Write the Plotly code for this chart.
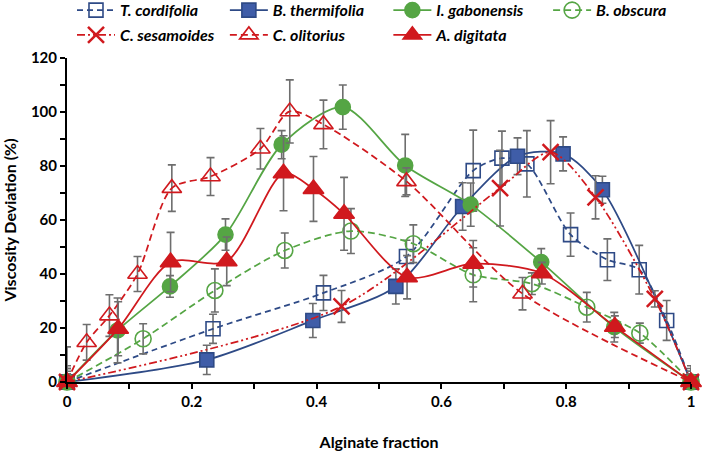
import plotly.graph_objects as go

# ---- data ----
tc_x = [0, 0.234, 0.411, 0.544, 0.651, 0.697, 0.737, 0.807, 0.866, 0.917, 0.961, 1]
tc_y = [0, 19.7, 33, 46.5, 78.3, 82.9, 80.8, 54.6, 45.3, 41.6, 22.8, 0]
tc_e = [5, 5.4, 6.5, 6, 15, 10, 12.3, 8, 7.7, 9, 7.4, 3]

bt_x = [0, 0.224, 0.394, 0.527, 0.634, 0.722, 0.795, 0.858, 1]
bt_y = [0, 8.2, 22.8, 35.4, 65, 83.6, 84.5, 71.2, 0]
bt_e = [3, 5.4, 6.3, 6.5, 8.8, 6.8, 6.3, 5, 3]

ig_x = [0, 0.081, 0.165, 0.254, 0.344, 0.442, 0.542, 0.647, 0.760, 0.877, 1]
ig_y = [0, 19.1, 35.4, 54.6, 87.9, 101.8, 80.2, 65.7, 44.4, 20.3, 0]
ig_e = [13, 12, 4, 5.8, 5.2, 8.2, 11.5, 8, 5, 5.5, 4]

bo_x = [0, 0.122, 0.237, 0.349, 0.455, 0.555, 0.651, 0.745, 0.833, 0.918, 1]
bo_y = [0, 16, 33.9, 48.7, 55.9, 51.2, 39.7, 36.4, 27.7, 18.1, 0]
bo_e = [6, 5.6, 8, 6.5, 8.3, 7, 10, 4, 5.5, 3.7, 6]

cs_x = [0, 0.440, 0.694, 0.775, 0.847, 0.942, 1]
cs_y = [0, 28, 71.8, 85.1, 68.4, 30.8, 0]
cs_e = [4, 5.9, 14, 11.7, 8, 3, 5]

co_x = [0, 0.0315, 0.068, 0.113, 0.168, 0.230, 0.310, 0.357, 0.411, 0.544, 0.730, 1]
co_y = [0, 14.7, 24.6, 40, 71.8, 76.1, 86.4, 100.2, 95.4, 74.3, 32.7, 0]
co_e = [5, 6.6, 7.7, 6.5, 8.6, 7, 7.5, 11.7, 9, 5, 6, 4]

ad_x = [0, 0.082, 0.166, 0.256, 0.347, 0.395, 0.444, 0.545, 0.651, 0.761, 0.878, 1]
ad_y = [0, 19.7, 44.4, 44.7, 77.3, 71.5, 62.3, 38.8, 43.8, 40.3, 20.5, 0]
ad_e = [3, 10, 11, 9, 13.9, 12, 13.5, 8, 8.6, 4, 4, 3]

x_ticks = [0, 0.2, 0.4, 0.6, 0.8, 1]
x_ticklabels = ["0", "0.2", "0.4", "0.6", "0.8", "1"]
y_ticks = [0, 20, 40, 60, 80, 100, 120]

NAVY = "#2E4A86"
NAVYF = "#3F5DA8"
GREEN = "#55A544"
RED = "#D0191E"
ERR = "#6E6E6E"

fig = go.Figure()

def add(name, x, y, e, color, dash, symbol, size, legend, fill=None, lw=1.75, mlw=1.6):
    mk = dict(symbol=symbol, size=size, color=fill if fill else color,
              line=dict(color=color, width=mlw))
    fig.add_trace(go.Scatter(
        x=x, y=y, name="<b><i>" + name + "</i></b>", mode="lines+markers",
        line=dict(color=color, width=lw, dash=dash, shape="spline", smoothing=0.8),
        marker=mk, cliponaxis=False, legend=legend, legendgroup=name,
        error_y=dict(type="data", array=e, visible=True, color=ERR, thickness=1.6, width=4),
    ))

add("T. cordifolia", tc_x, tc_y, tc_e, NAVY, "6px,4px", "square-open", 14, "legend")
add("B. thermifolia", bt_x, bt_y, bt_e, NAVY, "solid", "square", 14, "legend2", fill=NAVYF)
add("I. gabonensis", ig_x, ig_y, ig_e, GREEN, "solid", "circle", 15, "legend3")
add("B. obscura", bo_x, bo_y, bo_e, GREEN, "7px,4px", "circle-open", 16, "legend4")
add("C. sesamoides", cs_x, cs_y, cs_e, RED, "8px,3px,2px,3px,2px,3px", "x-thin-open", 16, "legend", mlw=2.5)
add("C. olitorius", co_x, co_y, co_e, RED, "7px,4px", "triangle-up-open", 17, "legend2")
add("A. digitata", ad_x, ad_y, ad_e, RED, "solid", "triangle-up", 18, "legend3")

FONT = "Lato"

def leg(xp):
    return dict(orientation="v", x=xp, y=1.20, xanchor="left", yanchor="top",
                itemwidth=38, font=dict(family=FONT, size=16, color="black"),
                bgcolor="rgba(0,0,0,0)", tracegroupgap=1)

fig.update_layout(
    width=703, height=460,
    margin=dict(l=67, r=12, t=58, b=78, autoexpand=False),
    paper_bgcolor="white", plot_bgcolor="white",
    font=dict(family=FONT, size=14, color="black"),
    showlegend=True,
    legend=leg(0.008),
    legend2=leg(0.253),
    legend3=leg(0.515),
    legend4=leg(0.771),
    xaxis=dict(range=[0, 1], tickvals=x_ticks, ticktext=x_ticklabels,
               showgrid=False, zeroline=False, showline=True, linecolor="black", linewidth=2,
               ticks="outside", ticklen=5, tickwidth=2, tickcolor="black",
               minor=dict(dtick=0.1, ticks="outside", ticklen=5, tickwidth=1.5, tickcolor="black"),
               tickfont=dict(family=FONT, size=15, color="black", weight="bold"),
               title=dict(text="<b>Alginate fraction</b>", font=dict(family=FONT, size=16), standoff=28)),
    yaxis=dict(range=[0, 120], tickvals=y_ticks,
               showgrid=False, zeroline=False, showline=True, linecolor="black", linewidth=2,
               ticks="outside", ticklen=5, tickwidth=2, tickcolor="black",
               minor=dict(dtick=10, ticks="outside", ticklen=5, tickwidth=1.5, tickcolor="black"),
               tickfont=dict(family=FONT, size=15, color="black", weight="bold"),
               title=dict(text="<b>Viscosity Deviation (%)</b>", font=dict(family=FONT, size=16), standoff=12)),
)

fig.write_html("out.html", config={"displayModeBar": False},
               post_script="document.body.style.margin='0';document.body.style.padding='0';"
                           "document.documentElement.style.overflow='hidden';")
